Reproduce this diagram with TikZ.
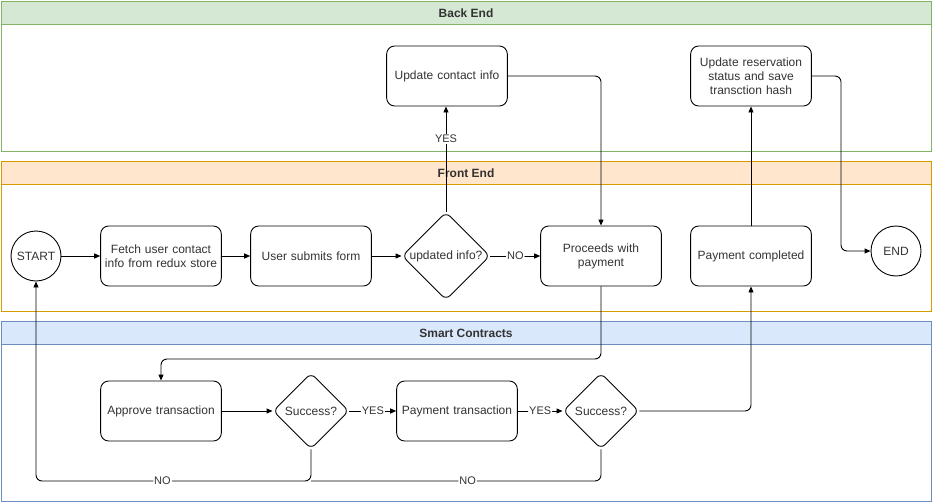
\documentclass[tikz,border=0pt]{standalone}
\usepackage{fontspec}
\setmainfont{Liberation Sans}
\usetikzlibrary{shapes.geometric,arrows.meta}
\definecolor{beFill}{HTML}{D5E8D4}\definecolor{beLine}{HTML}{82B366}
\definecolor{feFill}{HTML}{FFE6CC}\definecolor{feLine}{HTML}{D79B00}
\definecolor{scFill}{HTML}{DAE8FC}\definecolor{scLine}{HTML}{6C8EBF}
\definecolor{txt}{HTML}{333333}
\begin{document}
\begin{tikzpicture}[x=1pt,y=-1pt,
  font=\fontsize{12}{14}\selectfont,
  stepbox/.style={draw,rounded corners=8pt,minimum width=120pt,minimum height=60pt,align=center,text width=114pt,line width=0.9pt,text=txt},
  decision/.style={draw,diamond,aspect=1,inner sep=1pt,line width=0.9pt,rounded corners=6pt,text=txt},
  term/.style={draw,circle,minimum size=50pt,inner sep=0pt,line width=0.9pt,text=txt},
  conn/.style={draw,line width=0.9pt,-{Triangle[length=6pt,width=5pt]},rounded corners=6pt},
  link/.style={draw,line width=0.9pt,rounded corners=6pt},
  lbl/.style={fill=white,inner sep=1pt,font=\fontsize{11}{13}\selectfont,text=txt},
  lanehead/.style={font=\bfseries\fontsize{12}{14}\selectfont,text=txt}]
\useasboundingbox (0,0) rectangle (933,503);
\fill[white] (0,0) rectangle (933,503);
% lanes
\draw[beLine,line width=0.9pt,fill=beFill] (1,1) rectangle (931,24);
\draw[beLine,line width=0.9pt] (1,24) rectangle (931,151);
\node[lanehead] (hbe) at (466,13) {Back End};
\draw[feLine,line width=0.9pt,fill=feFill] (1,161) rectangle (931,184);
\draw[feLine,line width=0.9pt] (1,184) rectangle (931,311);
\node[lanehead] (hfe) at (466,173) {Front End};
\draw[scLine,line width=0.9pt,fill=scFill] (1,321) rectangle (931,344);
\draw[scLine,line width=0.9pt] (1,344) rectangle (931,501);
\node[lanehead] (hsc) at (466,333) {Smart Contracts};
% nodes
\node[term] (start) at (36,256) {START};
\node[stepbox] (fetch) at (161,256) {Fetch user contact\\info from redux store};
\node[stepbox] (submit) at (311,256) {User submits form};
\node[decision,minimum size=84pt] (upd) at (446,256) {updated info?};
\node[stepbox] (proc) at (601,256) {Proceeds with\\payment};
\node[stepbox] (paid) at (751,256) {Payment completed};
\node[term] (end) at (896,251) {END};
\node[stepbox] (contact) at (447,76) {Update contact info};
\node[stepbox] (resv) at (751,76) {Update reservation\\status and save\\transction hash};
\node[stepbox] (approve) at (161,411) {Approve transaction};
\node[decision,minimum size=76pt] (s1) at (311,411) {Success?};
\node[stepbox] (pay) at (457,411) {Payment transaction};
\node[decision,minimum size=76pt] (s2) at (601,411) {Success?};
% connectors
\path[conn] (start) -- (fetch);
\path[conn] (fetch) -- (submit);
\path[conn] (submit) -- (upd);
\path[conn] (upd) -- node[lbl] {NO} (proc);
\path[conn] (upd.north) -- node[lbl,pos=0.69] {YES} (upd.north |- contact.south);
\path[conn] (contact.east) -| (proc.north);
\path[conn] (proc.south) -- (601,359) -| (approve.north);
\path[conn] (approve) -- (s1);
\path[conn] (s1) -- node[lbl] {YES} (pay);
\path[conn] (pay) -- node[lbl] {YES} (s2);
\path[conn] (s2.east) -| (paid.south);
\path[conn] (paid) -- (resv);
\path[conn] (resv.east) -- (841,76) |- (end.west);
\path[conn] (s1.south) |- node[lbl,pos=0.77] {NO} (36,481) -- (start.south);
\path[link] (s2.south) |- node[lbl,pos=0.73] {NO} (311,481);
\end{tikzpicture}
\end{document}
